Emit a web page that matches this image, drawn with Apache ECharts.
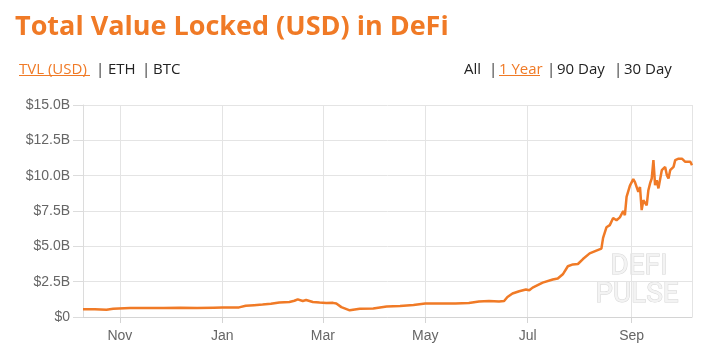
<!DOCTYPE html>
<html>
<head>
<meta charset="utf-8">
<script src="https://cdn.jsdelivr.net/npm/echarts@6/dist/echarts.min.js"></script>
<style>
  html, body { margin: 0; padding: 0; background: #fff; }
  #chart { width: 705px; height: 353px; }
</style>
</head>
<body>
<div id="chart"></div>
<script>
// TVL in billions of USD
var dates = [
  '2019-10-10', '2019-10-17', '2019-10-24', '2019-10-28', '2019-11-07', '2019-11-17',
  '2019-11-27', '2019-12-07', '2019-12-17', '2019-12-27', '2020-01-01', '2020-01-11',
  '2020-01-15', '2020-01-20', '2020-01-25', '2020-01-30', '2020-02-04', '2020-02-10',
  '2020-02-13', '2020-02-15', '2020-02-18', '2020-02-20', '2020-02-24', '2020-02-28',
  '2020-03-03', '2020-03-07', '2020-03-09', '2020-03-12', '2020-03-13', '2020-03-17',
  '2020-03-23', '2020-03-31', '2020-04-08', '2020-04-16', '2020-04-24', '2020-05-01',
  '2020-05-09', '2020-05-19', '2020-05-27', '2020-06-02', '2020-06-08', '2020-06-14',
  '2020-06-17', '2020-06-19', '2020-06-22', '2020-06-26', '2020-06-30', '2020-07-02',
  '2020-07-04', '2020-07-10', '2020-07-16', '2020-07-19', '2020-07-22', '2020-07-25',
  '2020-07-28', '2020-07-31', '2020-08-03', '2020-08-07', '2020-08-11', '2020-08-14',
  '2020-08-15', '2020-08-17', '2020-08-19', '2020-08-21', '2020-08-23', '2020-08-25',
  '2020-08-27', '2020-08-28', '2020-08-29', '2020-08-31', '2020-09-02', '2020-09-03',
  '2020-09-05', '2020-09-06', '2020-09-07', '2020-09-08', '2020-09-09', '2020-09-10',
  '2020-09-11', '2020-09-12', '2020-09-13', '2020-09-14', '2020-09-15', '2020-09-16',
  '2020-09-17', '2020-09-18', '2020-09-19', '2020-09-21', '2020-09-22', '2020-09-23',
  '2020-09-24', '2020-09-26', '2020-09-27', '2020-09-29', '2020-10-01', '2020-10-03',
  '2020-10-04', '2020-10-06', '2020-10-07'
];
var tvl = [
  0.55, 0.54, 0.52, 0.58, 0.63, 0.64,
  0.64, 0.65, 0.64, 0.66, 0.67, 0.68,
  0.80, 0.84, 0.88, 0.93, 1.02, 1.06,
  1.15, 1.25, 1.13, 1.20, 1.06, 1.02,
  0.99, 1.00, 0.95, 0.70, 0.59, 0.47,
  0.59, 0.60, 0.75, 0.78, 0.85, 0.95,
  0.95, 0.95, 0.99, 1.09, 1.13, 1.09,
  1.13, 1.42, 1.66, 1.82, 1.94, 1.89,
  2.08, 2.43, 2.65, 2.72, 3.02, 3.59,
  3.72, 3.75, 4.10, 4.50, 4.70, 4.84,
  5.60, 6.35, 6.50, 7.00, 6.85, 7.05,
  7.50, 7.20, 8.50, 9.30, 9.75, 9.55,
  8.85, 9.20, 7.56, 8.26, 8.14, 7.90,
  8.97, 9.45, 9.80, 11.10, 9.33, 9.68,
  9.10, 9.20, 10.39, 10.62, 10.04, 9.80,
  10.39, 10.62, 11.10, 11.20, 11.20, 10.98,
  10.90, 10.98, 10.74
];
var monthNames = ['Jan', 'Feb', 'Mar', 'Apr', 'May', 'Jun', 'Jul', 'Aug', 'Sep', 'Oct', 'Nov', 'Dec'];
var xStart = '2019-10-10';
var xEnd = '2020-10-07';

function ts(s) {
  var p = s.split('-');
  return new Date(+p[0], +p[1] - 1, +p[2]).getTime();
}

var orange = '#f07a26';
var navFont = '15px "Open Sans"';
var seriesData = dates.map(function (d, i) { return [ts(d), tvl[i]]; });

function navText(x, text, color) {
  return { type: 'text', x: x, y: 70, style: { text: text, fill: color, font: navFont, verticalAlign: 'middle' } };
}

var myChart = echarts.init(document.getElementById('chart'));
var option = {
  animation: false,
  grid: { left: 83, right: 13, top: 105, bottom: 36 },
  xAxis: {
    type: 'time',
    min: ts(xStart),
    max: ts(xEnd),
    splitNumber: 5,
    axisLine: { show: true, lineStyle: { color: '#d4d4d4' } },
    axisTick: { show: true, length: 6, lineStyle: { color: '#d4d4d4' } },
    splitLine: { show: true, lineStyle: { color: '#e4e4e4' } },
    axisLabel: {
      color: '#666',
      fontSize: 14,
      fontFamily: 'Liberation Sans',
      margin: 12,
      showMinLabel: false,
      showMaxLabel: false,
      formatter: function (v) { return monthNames[new Date(v).getMonth()]; }
    }
  },
  yAxis: {
    type: 'value',
    min: 0,
    max: 15,
    interval: 2.5,
    axisLine: { show: true, lineStyle: { color: '#dcdcdc' } },
    axisTick: { show: true, length: 10, lineStyle: { color: '#dcdcdc' } },
    splitLine: { lineStyle: { color: '#e4e4e4' } },
    axisLabel: {
      color: '#666',
      fontSize: 14,
      fontFamily: 'Liberation Sans',
      margin: 13,
      formatter: function (v) { return v === 0 ? '$0' : '$' + v.toFixed(1) + 'B'; }
    }
  },
  graphic: [
    { type: 'text', x: 15, y: 27,
      style: { text: 'Total Value Locked (USD) in DeFi', fill: orange, font: 'bold 27px "Open Sans"', verticalAlign: 'middle' } },
    navText(19, 'TVL (USD)', orange),
    { type: 'line', shape: { x1: 19, y1: 75.5, x2: 90, y2: 75.5 }, style: { stroke: orange, lineWidth: 1 } },
    navText(96, '|', '#333'),
    navText(108, 'ETH', '#222'),
    navText(142, '|', '#333'),
    navText(153, 'BTC', '#222'),
    navText(464, 'All', '#222'),
    navText(489, '|', '#333'),
    navText(499, '1 Year', orange),
    { type: 'line', shape: { x1: 499, y1: 75.5, x2: 540, y2: 75.5 }, style: { stroke: orange, lineWidth: 1 } },
    navText(547, '|', '#333'),
    navText(557, '90 Day', '#222'),
    navText(614, '|', '#333'),
    navText(624, '30 Day', '#222'),
    // watermark
    { type: 'text', x: 639, y: 267, z: 0,
      style: { text: 'DEFI', fill: '#f3f3f3', stroke: '#d6d6d6', lineWidth: 1, font: '28px Roboto',
        align: 'center', verticalAlign: 'middle', shadowColor: 'rgba(0,0,0,0.08)', shadowOffsetX: 1, shadowOffsetY: 1 } },
    { type: 'text', x: 637, y: 295, z: 0,
      style: { text: 'PULSE', fill: '#f3f3f3', stroke: '#d6d6d6', lineWidth: 1, font: '28px Roboto',
        align: 'center', verticalAlign: 'middle', shadowColor: 'rgba(0,0,0,0.08)', shadowOffsetX: 1, shadowOffsetY: 1 } }
  ],
  series: [
    {
      type: 'line',
      data: seriesData,
      showSymbol: false,
      z: 5,
      lineStyle: { color: orange, width: 2.5 },
      itemStyle: { color: orange }
    }
  ]
};
myChart.setOption(option);
</script>
</body>
</html>
